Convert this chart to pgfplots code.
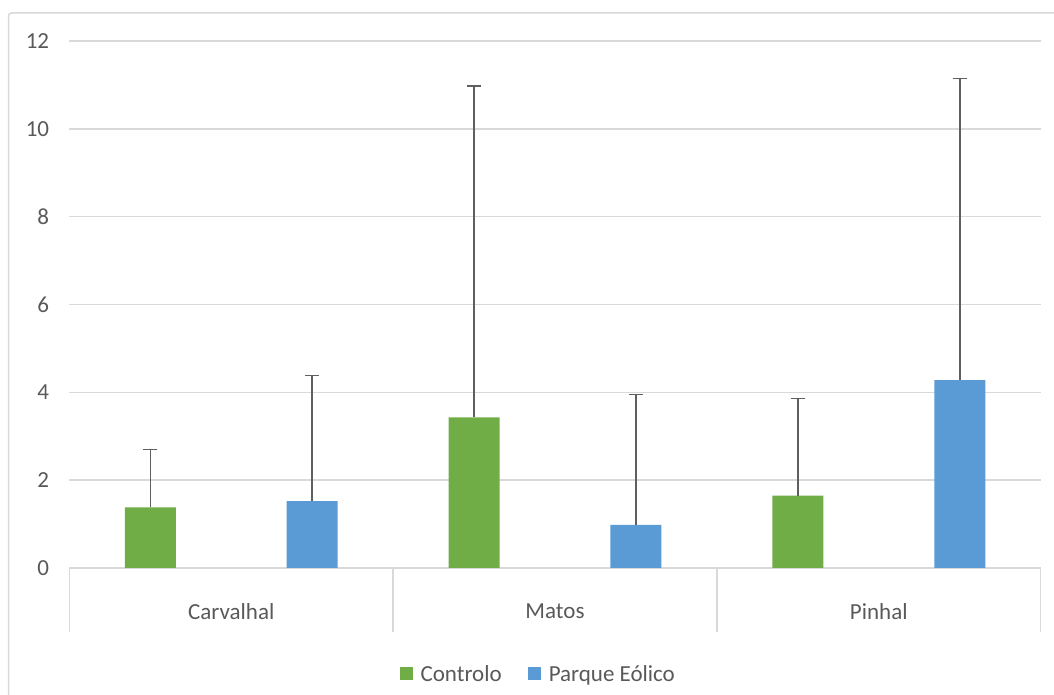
\documentclass[border=0pt]{standalone}
\usepackage{fontspec}
\setmainfont{Carlito}
\usepackage{pgfplots}
\pgfplotsset{compat=1.18}
\definecolor{cgreen}{HTML}{70AD47}
\definecolor{cblue}{HTML}{5B9BD5}
\definecolor{gridcol}{HTML}{D9D9D9}
\definecolor{txtgray}{HTML}{595959}
\definecolor{errgray}{HTML}{5F5F5F}
\begin{document}
\begin{tikzpicture}[font=\fontsize{23}{27}\selectfont]
\useasboundingbox (0pt,0pt) rectangle (1054pt,695pt);
\draw[gridcol, line width=1.5pt, rounded corners=3pt] (8.5pt,-20pt) -- (8.5pt,682pt) -- (1080pt,682pt);
\begin{axis}[
  at={(69.3pt,127pt)}, anchor=south west,
  scale only axis, width=971.4pt, height=527pt,
  xmin=-0.5, xmax=2.5, ymin=0, ymax=12,
  ytick={0,2,...,12},
  xtick={0,1,2},
  xticklabels={Carvalhal,Matos,Pinhal},
  axis line style={draw=none},
  major tick length=0pt,
  ymajorgrids,
  major grid style={gridcol, line width=1.5pt},
  /pgf/number format/assume math mode=true,
  yticklabel style={text=txtgray, inner sep=0pt, anchor=east, xshift=-20pt},
  xticklabel style={text=txtgray, inner sep=0pt, anchor=center, yshift=-43.7pt},
  clip=false,
  ybar, bar width=51pt, bar shift=0pt,
  legend style={at={(0.4817,-0.2011)}, anchor=center, draw=none, fill=none,
    legend columns=2, text=txtgray,
    /tikz/every even column/.append style={column sep=26pt},
    nodes={inner sep=0pt}},
  legend cell align=left,
  legend image code/.code={\fill[#1] (0pt,-6.5pt) rectangle (13pt,6.5pt);},
]
\addplot[fill=cgreen, draw=none,
  error bars/.cd, y dir=plus, y explicit, error mark=|,
  error bar style={draw=errgray, line width=1.5pt},
  error mark options={draw=errgray, line width=1.5pt, mark size=7pt}]
  coordinates {(-0.25,1.38) +- (0,1.32) (0.75,3.43) +- (0,7.55) (1.75,1.65) +- (0,2.21)};
\addlegendentry{\hspace{8pt}Controlo}
\addplot[fill=cblue, draw=none,
  error bars/.cd, y dir=plus, y explicit, error mark=|,
  error bar style={draw=errgray, line width=1.5pt},
  error mark options={draw=errgray, line width=1.5pt, mark size=7pt}]
  coordinates {(0.25,1.52) +- (0,2.86) (1.25,0.98) +- (0,2.97) (2.25,4.28) +- (0,6.87)};
\addlegendentry{\hspace{8pt}Parque Eólico}
\draw[gridcol, line width=1.5pt] (axis cs:-0.5,0) -- (axis cs:-0.5,-1.457);
\draw[gridcol, line width=1.5pt] (axis cs:0.5,0) -- (axis cs:0.5,-1.457);
\draw[gridcol, line width=1.5pt] (axis cs:1.5,0) -- (axis cs:1.5,-1.457);
\draw[gridcol, line width=1.5pt] (axis cs:2.5,0) -- (axis cs:2.5,-1.457);
\end{axis}
\end{tikzpicture}
\end{document}
